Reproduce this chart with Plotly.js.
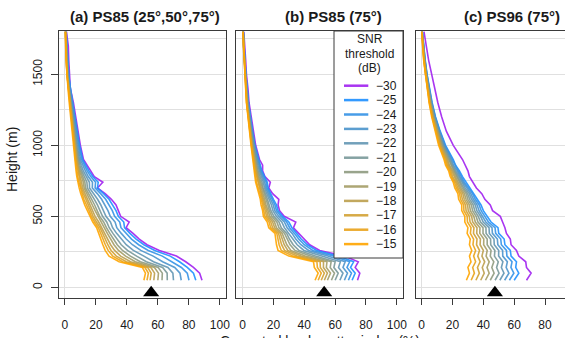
<!DOCTYPE html>
<html><head><meta charset="utf-8">
<script src="https://cdn.plot.ly/plotly-3.0.1.min.js"></script>
<style>html,body{margin:0;padding:0;overflow:hidden;background:#fff}#chart{width:600px;height:338px}</style>
</head><body><div id="chart"></div>
<script>
// Heights (m) of the profile levels
const heights = [50,100,140,180,220,260,300,340,380,420,460,500,540,580,620,660,700,740,780,820,860,900,1000,1100,1200,1300,1400,1500,1600,1700,1800];
// SNR thresholds (dB), drawing order; columns of the tables below
const thresholds = [-30,-25,-24,-23,-22,-21,-20,-19,-18,-17,-16,-15];
const lineColors = ['#A020F0','#1E90FF','#3592E6','#4B94CC','#6296B3','#789899','#8F9B80','#A59D66','#BC9F4D','#D2A133','#E9A31A','#FFA500'];
const panelTitles = ['(a) PS85 (25°,50°,75°)','(b) PS85 (75°)','(c) PS96 (75°)'];
const xTickVals = [[0,20,40,60,80,100],[0,20,40,60,80,100],[0,20,40,60,80]];
const yTickVals = [0,500,1000,1500];
const triangleX = [55.7, 52.9, 47.5];
const xTitle = 'Corrected backscatter index (%)';
const yTitle = 'Height (m)';
const legendTitle = ['SNR','threshold','(dB)'];

// Panel (a): one row per height, columns in threshold order
const pctA = [
[88.5,84.5,80.1,75.1,70.1,66.1,62.7,60.0,57.4,55.0,53.0,51],
[87,83,79.0,74.3,69.7,66.0,62.9,60.4,57.9,55.7,53.9,52],
[83,79,75.2,70.9,66.5,63.1,60.2,57.8,55.5,53.5,51.7,50],
[78,74,68.9,63.1,57.2,52.6,48.7,45.5,42.4,39.7,37.3,35],
[72,68,62.9,57.0,51.0,46.3,42.3,39.2,36.0,33.2,30.9,28.5],
[61,58,53.8,49.0,44.2,40.4,37.2,34.6,32.1,29.8,27.9,26],
[53,51,47.6,43.6,39.6,36.4,33.8,31.7,29.5,27.7,26.1,24.5],
[48,46,43.0,39.6,36.2,33.5,31.2,29.4,27.6,26.0,24.7,23.3],
[44,42,39.4,36.4,33.4,31.0,29.0,27.4,25.8,24.4,23.2,22],
[39.5,38.5,36.2,33.5,30.8,28.6,26.8,25.4,23.9,22.7,21.6,20.5],
[41.5,38,35.4,32.4,29.4,27.0,25.0,23.4,21.8,20.4,19.2,18],
[36,34.5,32.1,29.3,26.5,24.3,22.5,21.0,19.5,18.2,17.1,16],
[34.5,33,30.6,27.8,25.0,22.8,21.0,19.5,18.0,16.7,15.6,14.5],
[33,31,28.6,25.9,23.2,21.0,19.2,17.7,16.3,15.0,13.9,12.8],
[30,28.5,26.3,23.7,21.1,19.0,17.3,15.9,14.6,13.4,12.3,11.3],
[26,25,23.1,20.9,18.6,16.9,15.4,14.2,13.0,12.0,11.1,10.2],
[21,21,19.5,17.7,15.9,14.5,13.3,12.4,11.4,10.6,9.9,9.2],
[24.5,21.5,19.8,17.8,15.8,14.2,12.9,11.9,10.8,9.9,9.1,8.3],
[19,18,16.7,15.1,13.6,12.3,11.3,10.5,9.7,8.9,8.3,7.7],
[16.5,15.5,14.4,13.2,11.9,10.9,10.1,9.4,8.8,8.2,7.7,7.2],
[14.5,13.5,12.6,11.6,10.6,9.8,9.1,8.6,8.1,7.6,7.2,6.8],
[12,11.5,10.9,10.1,9.4,8.8,8.3,7.9,7.5,7.1,6.8,6.5],
[10,9.5,9.0,8.5,7.9,7.5,7.1,6.8,6.5,6.2,6.0,5.8],
[8.5,8,7.6,7.1,6.6,6.2,5.9,5.7,5.4,5.2,5.0,4.8],
[7,6.5,6.1,5.7,5.3,5.0,4.7,4.5,4.3,4.1,4.0,3.8],
[5.5,5,4.7,4.4,4.1,3.8,3.6,3.4,3.2,3.1,2.9,2.8],
[3.5,3.5,3.3,3.1,2.9,2.7,2.5,2.4,2.3,2.2,2.1,2.0],
[2.8,2.5,2.3,2.1,1.9,1.8,1.7,1.6,1.4,1.4,1.3,1.2],
[2.5,2,1.8,1.7,1.5,1.3,1.2,1.1,1.0,0.9,0.9,0.8],
[2.2,1.5,1.4,1.2,1.1,1.0,0.9,0.8,0.7,0.6,0.6,0.5],
[1,0.8,0.7,0.7,0.6,0.5,0.5,0.4,0.4,0.4,0.3,0.3]
];
// Panel (b)
const pctB = [
[74.5,71,68.6,66.0,63.1,60.0,57.6,55.0,53.0,51.0,49.0,47],
[76,73,70.6,68.0,65.1,62.0,59.6,57.0,55.0,53.0,51.0,49],
[73,70,67.7,65.1,62.2,59.2,56.8,54.3,52.4,50.4,48.5,46.5],
[75,72,69.4,66.5,63.4,60.0,57.4,54.7,52.5,50.3,48.2,46],
[66,62,58.8,55.3,51.4,47.3,44.1,40.7,38.0,35.3,32.7,30],
[50,48,45.5,42.8,39.8,36.5,34.0,31.3,29.3,27.2,25.1,23],
[43.5,42,40.0,37.8,35.4,32.8,30.8,28.7,27.0,25.3,23.7,22],
[40,38,36.4,34.5,32.6,30.4,28.8,27.0,25.6,24.3,22.9,21.5],
[36,35,33.6,32.1,30.4,28.6,27.2,25.7,24.5,23.3,22.2,21],
[33,32,30.5,28.9,27.1,25.1,23.6,22.0,20.8,19.5,18.2,17],
[34.5,30,28.6,27.1,25.4,23.6,22.2,20.7,19.5,18.3,17.2,16],
[27,26,24.8,23.4,21.9,20.3,19.0,17.7,16.6,15.6,14.5,13.5],
[24,23,22.0,20.9,19.7,18.4,17.4,16.3,15.5,14.7,13.8,13],
[23,22,21.0,19.9,18.7,17.4,16.4,15.3,14.5,13.7,12.8,12],
[23.5,20,19.2,18.2,17.2,16.1,15.2,14.3,13.6,12.9,12.2,11.5],
[19.5,18.5,17.7,16.8,15.9,14.8,14.0,13.2,12.5,11.8,11.2,10.5],
[17,16.5,15.8,15.0,14.2,13.3,12.6,11.8,11.3,10.7,10.1,9.5],
[18,16,15.3,14.4,13.5,12.6,11.8,11.0,10.4,9.8,9.1,8.5],
[14.5,14,13.4,12.7,12.0,11.2,10.6,10.0,9.5,9.0,8.5,8],
[13,12.5,12.0,11.5,10.9,10.2,9.7,9.2,8.8,8.3,7.9,7.5],
[13,11.5,11.1,10.6,10.0,9.4,9.0,8.5,8.1,7.8,7.4,7],
[11,10.5,10.1,9.7,9.2,8.7,8.3,7.8,7.5,7.2,6.8,6.5],
[8.5,8,7.8,7.5,7.2,6.9,6.6,6.3,6.1,5.9,5.7,5.5],
[7,6.5,6.3,6.1,5.8,5.6,5.4,5.2,5.0,4.8,4.7,4.5],
[5.5,5,4.9,4.7,4.5,4.3,4.2,4.0,3.9,3.8,3.6,3.5],
[4.2,3.8,3.7,3.5,3.4,3.2,3.1,2.9,2.8,2.7,2.6,2.5],
[3.5,3,2.9,2.8,2.7,2.5,2.4,2.3,2.3,2.2,2.1,2],
[2.5,2,2.0,1.9,1.8,1.8,1.7,1.7,1.6,1.6,1.5,1.5],
[2,1.5,1.5,1.4,1.3,1.3,1.2,1.2,1.1,1.1,1.0,1],
[1.5,1,1.0,0.9,0.8,0.8,0.7,0.7,0.6,0.6,0.5,0.5],
[0.8,0.5,0.5,0.5,0.4,0.4,0.4,0.4,0.4,0.3,0.3,0.3]
];
// Panel (c)
const pctC = [
[68,60,56.9,53.8,50.7,47.6,44.5,41.4,38.3,35.2,32.1,29],
[71,63,59.8,56.6,53.4,50.2,47.0,43.8,40.6,37.4,34.2,31],
[68,61,57.9,54.8,51.7,48.6,45.5,42.4,39.3,36.2,33.1,30],
[67.5,61.5,58.6,55.6,52.7,49.7,46.8,43.8,40.9,37.9,35.0,32],
[63,58,55.3,52.6,49.9,47.2,44.5,41.8,39.1,36.4,33.7,31],
[61.5,57.5,55.0,52.5,50.0,47.5,45.0,42.5,40.0,37.5,35.0,32.5],
[58,54,51.7,49.4,47.1,44.8,42.5,40.2,37.9,35.6,33.3,31],
[57.5,53.5,51.3,49.1,46.9,44.7,42.5,40.3,38.1,35.9,33.7,31.5],
[55,50,48.0,45.9,43.9,41.8,39.8,37.7,35.7,33.6,31.6,29.5],
[54,49.5,47.6,45.6,43.7,41.7,39.8,37.8,35.9,33.9,32.0,30],
[52.5,45,43.3,41.6,39.9,38.2,36.5,34.8,33.1,31.4,29.7,28],
[51,42.5,41.1,39.6,38.2,36.7,35.3,33.8,32.4,30.9,29.5,28],
[46,40,38.6,37.2,35.8,34.4,33.0,31.6,30.2,28.8,27.4,26],
[44.5,38.5,37.3,36.0,34.8,33.5,32.3,31.0,29.8,28.5,27.3,26],
[41,36,34.8,33.6,32.4,31.2,30.0,28.8,27.6,26.4,25.2,24],
[39,34,33.0,31.9,30.9,29.8,28.8,27.7,26.7,25.6,24.6,23.5],
[35.5,31,30.1,29.1,28.2,27.2,26.3,25.3,24.4,23.4,22.5,21.5],
[33,28.5,27.7,26.9,26.1,25.3,24.5,23.7,22.9,22.1,21.3,20.5],
[31,26.5,25.7,24.9,24.1,23.3,22.5,21.7,20.9,20.1,19.3,18.5],
[30,24.5,23.8,23.1,22.4,21.7,21.0,20.3,19.6,18.9,18.2,17.5],
[28,22,21.4,20.7,20.1,19.4,18.8,18.1,17.5,16.8,16.2,15.5],
[26.5,20.5,19.9,19.3,18.7,18.1,17.5,16.9,16.3,15.7,15.1,14.5],
[20.5,15.5,15.1,14.6,14.2,13.7,13.3,12.8,12.4,11.9,11.5,11],
[16,12,11.7,11.3,11.0,10.6,10.3,9.9,9.6,9.2,8.9,8.5],
[13,9,8.8,8.5,8.3,8.0,7.8,7.5,7.3,7.0,6.8,6.5],
[10.5,6.8,6.6,6.4,6.2,6.0,5.8,5.6,5.4,5.2,5.0,4.8],
[8.5,5,4.9,4.7,4.6,4.4,4.3,4.1,4.0,3.8,3.7,3.5],
[6.5,3.5,3.4,3.3,3.1,3.0,2.9,2.8,2.7,2.5,2.4,2.3],
[4.5,2.3,2.2,2.1,2.0,1.9,1.8,1.7,1.6,1.5,1.4,1.3],
[3,1.3,1.2,1.2,1.1,1.0,1.0,0.9,0.8,0.7,0.7,0.6],
[1.5,0.5,0.4,0.4,0.3,0.3,0.3,0.2,0.2,0.2,0.1,0.1]
];

const W = 600, H = 338;
const px = v => v / W, py = v => 1 - v / H;
const panels = [pctA, pctB, pctC];
const xDomains = [[px(58.7), px(226)], [px(236.4), px(403)], [px(415.5), px(582)]];
const yDomain = [py(298), py(31)];
const titleX = [145, 333.3, 511.7];
const FONT = 'Liberation Sans, Arial, sans-serif';
const ink = '#1a1a1a', boxCol = '#3a3a3a', gridCol = '#e0e0e0';

const traces = [];
panels.forEach((rows, p) => {
  const sfx = p === 0 ? '' : String(p + 1);
  thresholds.forEach((t, j) => {
    traces.push({type:'scatter', mode:'lines', x: rows.map(r => r[j]), y: heights,
      xaxis:'x'+sfx, yaxis:'y'+sfx, line:{color: lineColors[j], width:1.6}, opacity:0.9,
      showlegend:false, hoverinfo:'skip', name: String(t)});
  });
  traces.push({type:'scatter', mode:'markers', x:[triangleX[p]], y:[-38], xaxis:'x'+sfx, yaxis:'y'+sfx,
    marker:{symbol:'triangle-up', size:14, color:'#000'}, showlegend:false, hoverinfo:'skip'});
});

const layout = {width:W, height:H, margin:{l:0,r:0,t:0,b:0}, paper_bgcolor:'#fff', plot_bgcolor:'#fff',
  font:{family:FONT, color:ink}, showlegend:false, shapes:[], annotations:[]};

panels.forEach((rows, p) => {
  const sfx = p === 0 ? '' : String(p + 1);
  layout['xaxis'+sfx] = {domain:xDomains[p], anchor:'y'+sfx, range:[-4,104], tickmode:'array', tickvals:xTickVals[p],
    ticks:'outside', ticklen:6, tickcolor:boxCol, tickwidth:1, showline:true, mirror:true, linecolor:boxCol, linewidth:1,
    showgrid:false, zeroline:true, zerolinecolor:gridCol, zerolinewidth:1, tickfont:{size:12, color:ink, family:FONT},
    ticklabelstandoff:10};
  layout['yaxis'+sfx] = {domain:yDomain, anchor:'x'+sfx, range:[-75,1805], tickmode:'array', tickvals:yTickVals,
    ticks: p === 0 ? 'outside' : '', ticklen:7, tickcolor:boxCol, showticklabels: p === 0, tickangle:-90,
    tickfont:{size:12, color:ink, family:FONT}, ticklabelstandoff:4,
    showline:true, mirror:true, linecolor:boxCol, linewidth:1, showgrid:true, gridcolor:gridCol, gridwidth:1,
    minor:{tickmode:'linear', tick0:0, dtick:250, showgrid:true, gridcolor:gridCol, ticks:''}, zeroline:false};
  layout.annotations.push({xref:'paper', yref:'paper', x:px(titleX[p]), y:py(16.7), xanchor:'center', yanchor:'middle',
    text:'<b>'+panelTitles[p]+'</b>', showarrow:false, font:{size:15, color:ink, family:FONT}});
});

layout.annotations.push({xref:'paper', yref:'paper', x:px(12), y:py(160), textangle:-90, xanchor:'center', yanchor:'middle',
  text:yTitle, showarrow:false, font:{size:14, color:ink, family:FONT}});
layout.annotations.push({xref:'paper', yref:'paper', x:px(320), y:py(330.5), xanchor:'center', yanchor:'top',
  text:xTitle, showarrow:false, font:{size:14, color:ink, family:FONT}});

// Legend box (panel b)
layout.shapes.push({type:'rect', xref:'paper', yref:'paper', x0:px(334), x1:px(403), y0:py(258), y1:py(31),
  fillcolor:'#fff', line:{color:boxCol, width:1}, layer:'above'});
legendTitle.forEach((s, i) => {
  layout.annotations.push({xref:'paper', yref:'paper', x:px(369.5), y:py(39 + i*14.7), xanchor:'center', yanchor:'middle',
    text:s, showarrow:false, font:{size:12, color:ink, family:FONT}});
});
thresholds.forEach((t, j) => {
  const yy = py(85.7 + j*14.4);
  layout.shapes.push({type:'line', xref:'paper', yref:'paper', x0:px(344), x1:px(368.3), y0:yy, y1:yy,
    line:{color:lineColors[j], width:2.5}, layer:'above', opacity:0.9});
  layout.annotations.push({xref:'paper', yref:'paper', x:px(398.5), y:yy, xanchor:'right', yanchor:'middle',
    text:String(t).replace('-', '\u2212'), showarrow:false, font:{size:12, color:ink, family:FONT}});
});

Plotly.newPlot('chart', traces, layout, {staticPlot:true, displayModeBar:false});
</script>
</body></html>
